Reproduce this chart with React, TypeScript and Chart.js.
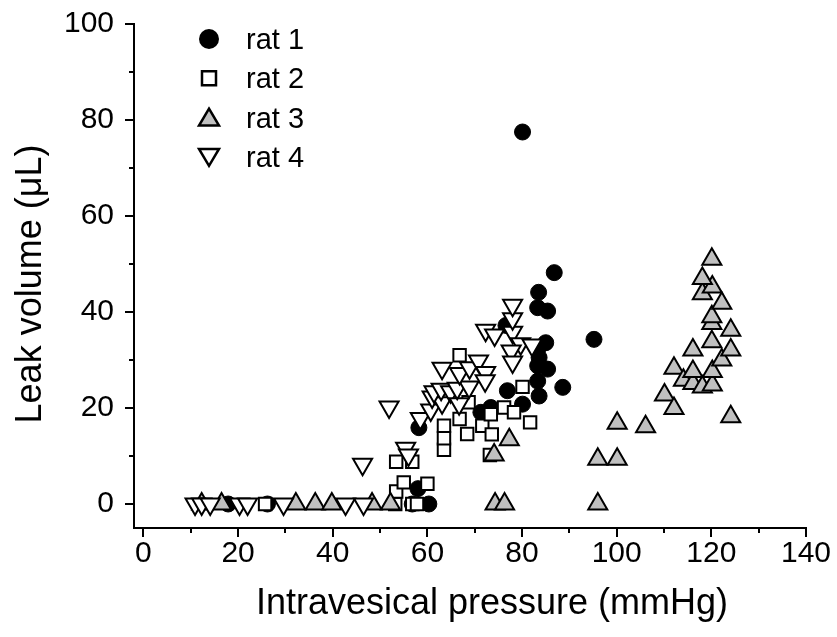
import React, { useEffect, useRef } from 'react';
import { Chart, registerables } from 'chart.js';

Chart.register(...registerables);

// ---------- data ----------
const seriesNames = ['rat 1', 'rat 2', 'rat 3', 'rat 4'];

const rat1X = [17.9, 26.2, 56.8, 60.3, 58.0, 58.2, 71.3, 73.4, 76.9, 80.1, 76.6, 80.1, 83.5, 86.8, 83.3, 85.4, 95.2, 85.0, 83.3, 83.6, 83.3, 85.4, 83.3, 88.6, 83.6];
const rat1Y = [0, 0, 0, 0, 3.2, 15.9, 19.1, 20.1, 23.6, 20.8, 37.2, 77.5, 44.1, 48.2, 40.9, 40.2, 34.3, 33.6, 32.2, 30.5, 28.8, 28.1, 25.6, 24.3, 22.5];

const rat2X = [25.7, 53.2, 56.8, 57.8, 53.4, 55.0, 60.0, 53.4, 56.8, 63.5, 63.5, 63.5, 66.8, 68.4, 71.6, 73.4, 73.6, 73.2, 76.2, 78.3, 81.7, 80.1, 66.8, 68.7];
const rat2Y = [0, 0, 0, 0, 2.6, 4.5, 4.2, 8.8, 8.8, 11.3, 13.7, 16.3, 17.7, 14.6, 16.3, 18.7, 14.5, 10.2, 20.1, 19.1, 17.0, 24.4, 31.0, 21.2];

const rat3X = [12.3, 16.5, 32.2, 36.3, 39.8, 48.3, 52.2, 74.3, 76.3, 96.0, 74.1, 77.3, 96.0, 100.1, 100.1, 106.1, 110.1, 112.1, 112.1, 114.1, 116.1, 116.1, 116.1, 118.1, 120.2, 120.2, 122.2, 120.1, 124.1, 124.1, 120.1, 120.1, 122.2, 118.1, 120.2, 118.1, 120.1, 124.1];
const rat3Y = [0, 0, 0, 0, 0, 0, 0, 0, 0, 0, 10.2, 13.4, 9.3, 9.3, 16.8, 16.1, 22.7, 19.9, 28.3, 25.8, 25.1, 27.6, 32.1, 24.4, 24.8, 27.6, 30.0, 33.8, 32.1, 36.2, 37.6, 39.0, 41.8, 43.8, 45.2, 47.0, 51.0, 18.2];

const rat4X = [10.9, 12.3, 14.1, 20.3, 22.0, 29.6, 42.7, 46.5, 46.3, 51.9, 55.4, 56.0, 58.5, 60.7, 61.0, 63.1, 61.4, 62.9, 64.9, 66.7, 66.3, 68.8, 63.1, 66.8, 68.9, 70.8, 72.3, 72.2, 72.3, 74.2, 78.0, 78.0, 78.0, 79.7, 77.7, 78.0, 82.1];
const rat4Y = [0, 0, 0, 0, 0, 0, 0, 0, 8.3, 20.2, 11.6, 10.2, 17.8, 19.6, 22.3, 21.1, 23.4, 23.9, 23.4, 20.9, 24.1, 24.4, 28.3, 27.2, 28.4, 29.8, 27.4, 25.7, 36.2, 35.2, 35.8, 38.6, 41.4, 33.4, 31.9, 29.6, 33.1];

const xTickLabels = [0, 20, 40, 60, 80, 100, 120, 140];
const xMinorTicks = [10, 30, 50, 70, 90, 110, 130];
const yTickLabels = [0, 20, 40, 60, 80, 100];
const yMinorTicks = [10, 30, 50, 70, 90];

const xTitle = 'Intravesical pressure (mmHg)';
const yTitle = 'Leak volume (\u03bcL)';

// ---------- styles ----------
const FONT = '"Liberation Sans", Arial, Helvetica, sans-serif';
const GREY = '#c0c0c0';

const toPoints = (xs: number[], ys: number[]) => xs.map((x, i) => ({ x, y: ys[i] }));

function drawMarker(ctx: CanvasRenderingContext2D, kind: number, cx: number, cy: number) {
  ctx.save();
  ctx.lineJoin = 'miter';
  ctx.strokeStyle = '#000';
  ctx.lineWidth = 2.5;
  if (kind === 0) {
    ctx.fillStyle = '#000';
    ctx.beginPath();
    ctx.arc(cx, cy, 10, 0, Math.PI * 2);
    ctx.fill();
  } else if (kind === 1) {
    ctx.fillStyle = '#fff';
    ctx.beginPath();
    ctx.rect(cx - 7, cy - 7, 14, 14);
    ctx.fill();
    ctx.stroke();
  } else if (kind === 2) {
    ctx.fillStyle = GREY;
    ctx.beginPath();
    ctx.moveTo(cx, cy - 9);
    ctx.lineTo(cx + 10, cy + 8);
    ctx.lineTo(cx - 10, cy + 8);
    ctx.closePath();
    ctx.fill();
    ctx.stroke();
  } else {
    ctx.fillStyle = '#fff';
    ctx.beginPath();
    ctx.moveTo(cx - 10, cy - 8);
    ctx.lineTo(cx + 10, cy - 8);
    ctx.lineTo(cx, cy + 9);
    ctx.closePath();
    ctx.fill();
    ctx.stroke();
  }
  ctx.restore();
}

const overlayPlugin = {
  id: 'overlay',
  afterDraw(chart: any) {
    const ctx: CanvasRenderingContext2D = chart.ctx;
    const xs = chart.scales.x;
    const ys = chart.scales.y;
    const area = chart.chartArea;
    ctx.save();
    // tick marks (outward)
    ctx.strokeStyle = '#000';
    ctx.lineWidth = 2;
    ctx.beginPath();
    const major = 9;
    const minor = 5;
    xTickLabels.forEach((v) => {
      const p = Math.round(xs.getPixelForValue(v));
      ctx.moveTo(p, area.bottom);
      ctx.lineTo(p, area.bottom + major);
    });
    xMinorTicks.forEach((v) => {
      const p = Math.round(xs.getPixelForValue(v));
      ctx.moveTo(p, area.bottom);
      ctx.lineTo(p, area.bottom + minor);
    });
    yTickLabels.forEach((v) => {
      const p = Math.round(ys.getPixelForValue(v));
      ctx.moveTo(area.left, p);
      ctx.lineTo(area.left - major, p);
    });
    yMinorTicks.forEach((v) => {
      const p = Math.round(ys.getPixelForValue(v));
      ctx.moveTo(area.left, p);
      ctx.lineTo(area.left - minor, p);
    });
    ctx.stroke();

    // axis titles
    ctx.fillStyle = '#000';
    ctx.font = `36px ${FONT}`;
    ctx.textAlign = 'center';
    ctx.textBaseline = 'alphabetic';
    ctx.fillText(xTitle, area.left + 358, area.bottom + 86);
    ctx.save();
    ctx.translate(41, area.top + 260);
    ctx.rotate(-Math.PI / 2);
    ctx.fillText(yTitle, 0, 0);
    ctx.restore();

    // legend
    ctx.font = `29px ${FONT}`;
    ctx.textAlign = 'left';
    ctx.textBaseline = 'middle';
    seriesNames.forEach((name, i) => {
      const cy = area.top + 15 + i * 39.3;
      drawMarker(ctx, i, area.left + 75, cy);
      ctx.fillStyle = '#000';
      ctx.fillText(name, area.left + 112, cy + 2);
    });
    ctx.restore();
  },
};

const zeroPadding = (scale: any) => {
  scale.paddingTop = 0;
  scale.paddingBottom = 0;
  scale.paddingLeft = 0;
  scale.paddingRight = 0;
};

export default function App() {
  const canvasRef = useRef<HTMLCanvasElement | null>(null);

  useEffect(() => {
    const canvas = canvasRef.current;
    if (!canvas) return;
    const chart = new Chart(canvas, {
      type: 'scatter',
      data: {
        datasets: [
          {
            label: seriesNames[0],
            data: toPoints(rat1X, rat1Y),
            pointStyle: 'circle',
            pointRadius: 8,
            backgroundColor: '#000',
            borderColor: '#000',
            borderWidth: 1,
            order: 4,
          },
          {
            label: seriesNames[1],
            data: toPoints(rat2X, rat2Y),
            pointStyle: 'rect',
            pointRadius: 8.8,
            backgroundColor: '#fff',
            borderColor: '#000',
            borderWidth: 2,
            order: 3,
          },
          {
            label: seriesNames[2],
            data: toPoints(rat3X, rat3Y),
            pointStyle: 'triangle',
            pointRadius: 11,
            backgroundColor: GREY,
            borderColor: '#000',
            borderWidth: 2,
            order: 2,
          },
          {
            label: seriesNames[3],
            data: toPoints(rat4X, rat4Y),
            pointStyle: 'triangle',
            rotation: 180,
            pointRadius: 11,
            backgroundColor: '#fff',
            borderColor: '#000',
            borderWidth: 2,
            order: 1,
          },
        ],
      },
      options: {
        responsive: false,
        animation: false,
        events: [],
        layout: { padding: { top: 24, right: 31, left: 0, bottom: 0 } },
        plugins: {
          legend: { display: false },
          tooltip: { enabled: false },
          title: { display: false },
        },
        scales: {
          x: {
            type: 'linear',
            min: -2,
            max: 140,
            grid: { display: false, drawTicks: false },
            border: { display: true, color: '#000', width: 2 },
            ticks: {
              color: '#000',
              font: { family: FONT, size: 30 },
              padding: 8,
              maxRotation: 0,
              autoSkip: false,
            },
            afterBuildTicks: (scale: any) => {
              scale.ticks = xTickLabels.map((v) => ({ value: v }));
            },
            afterFit: (scale: any) => {
              scale.height = 109;
              zeroPadding(scale);
            },
          },
          y: {
            type: 'linear',
            min: -5,
            max: 100,
            grid: { display: false, drawTicks: false },
            border: { display: true, color: '#000', width: 2 },
            ticks: {
              color: '#000',
              font: { family: FONT, size: 30 },
              padding: 20,
              autoSkip: false,
            },
            afterBuildTicks: (scale: any) => {
              scale.ticks = yTickLabels.map((v) => ({ value: v }));
            },
            afterFit: (scale: any) => {
              scale.width = 134;
              zeroPadding(scale);
            },
          },
        },
      },
      plugins: [overlayPlugin],
    });
    return () => chart.destroy();
  }, []);

  return (
    <div style={{ position: 'absolute', left: 0, top: 0, width: 837, height: 637, background: '#fff' }}>
      <canvas ref={canvasRef} width={837} height={637} style={{ display: 'block' }} />
    </div>
  );
}
